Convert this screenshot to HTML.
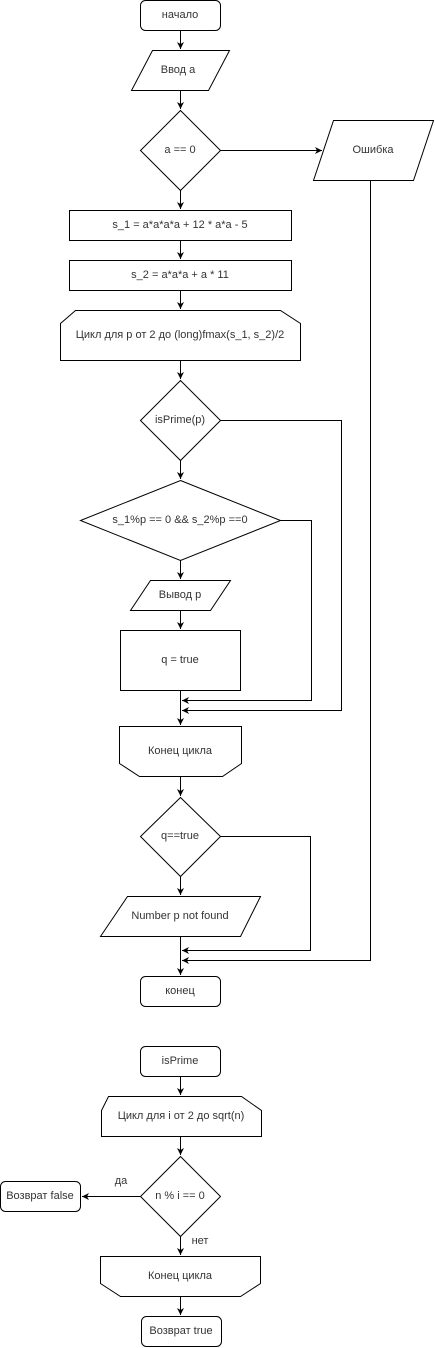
<!DOCTYPE html>
<html><head><meta charset="utf-8"><style>
html,body{margin:0;padding:0;background:#fff;}
svg{display:block;}
text{font-family:"Liberation Sans",Arial,sans-serif;font-size:11px;fill:#333;text-anchor:middle;dominant-baseline:central;}
</style></head><body>
<svg width="435" height="1348" viewBox="0 0 435 1348" xmlns="http://www.w3.org/2000/svg">
<defs><marker id="a" markerWidth="8" markerHeight="8" refX="7" refY="4" orient="auto" markerUnits="userSpaceOnUse"><path d="M0,0.5 L7,4 L0,7.5 L2,4 Z" fill="#000"/></marker></defs>
<g fill="none" stroke="#000" stroke-width="1">
<rect x="140.5" y="0.5" width="80" height="30" rx="5"/>
<polygon points="152.5,50.5 229.5,50.5 208.5,90.5 131.5,90.5"/>
<polygon points="180.5,110.5 220.5,150.5 180.5,190.5 140.5,150.5"/>
<polygon points="333.5,120.5 433.5,120.5 413.5,180.5 313.5,180.5"/>
<rect x="69.5" y="210.5" width="222" height="30"/>
<rect x="69.5" y="260.5" width="222" height="30"/>
<polygon points="75.5,310.5 280.5,310.5 300.5,323.5 300.5,360.5 60.5,360.5 60.5,323.5"/>
<polygon points="180.5,380.5 220.5,420.5 180.5,460.5 140.5,420.5"/>
<polygon points="180.5,480.5 280.5,520.5 180.5,560.5 80.5,520.5"/>
<polygon points="150.5,580.5 230.5,580.5 210.5,610.5 130.5,610.5"/>
<rect x="120.5" y="630.5" width="120" height="60"/>
<polygon points="119.5,726.5 241.5,726.5 241.5,763.5 222.5,776.5 139.5,776.5 119.5,763.5"/>
<polygon points="180.5,797.5 220.5,836.5 180.5,876.5 140.5,836.5"/>
<polygon points="127.5,896.5 260.5,896.5 240.5,936.5 100.5,936.5"/>
<rect x="140.5" y="976.5" width="80" height="30" rx="5"/>
<rect x="140.5" y="1046.5" width="80" height="30" rx="5"/>
<polygon points="108.5,1096.5 241.5,1096.5 261.5,1110.5 261.5,1136.5 101.5,1136.5 101.5,1110.5"/>
<polygon points="180.5,1156.5 220.5,1196.5 180.5,1236.5 140.5,1196.5"/>
<rect x="0.5" y="1181.5" width="80" height="30" rx="5"/>
<polygon points="100.5,1256.5 260.5,1256.5 260.5,1283.5 240.5,1296.5 120.5,1296.5 100.5,1283.5"/>
<rect x="141.5" y="1316.5" width="80" height="30" rx="5"/>

<path d="M180.5,30.5 V49" marker-end="url(#a)"/>
<path d="M180.5,90.5 V109" marker-end="url(#a)"/>
<path d="M220.5,150.5 H322" marker-end="url(#a)"/>
<path d="M180.5,190.5 V209" marker-end="url(#a)"/>
<path d="M180.5,240.5 V259" marker-end="url(#a)"/>
<path d="M180.5,290.5 V309" marker-end="url(#a)"/>
<path d="M180.5,360.5 V379" marker-end="url(#a)"/>
<path d="M180.5,460.5 V479" marker-end="url(#a)"/>
<path d="M180.5,560.5 V579" marker-end="url(#a)"/>
<path d="M180.5,610.5 V629" marker-end="url(#a)"/>
<path d="M180.5,690.5 V725" marker-end="url(#a)"/>
<path d="M280.5,520.5 H311.5 V700.5 H182" marker-end="url(#a)"/>
<path d="M220.5,420.5 H341.5 V710.5 H182" marker-end="url(#a)"/>
<path d="M180.5,776.5 V796" marker-end="url(#a)"/>
<path d="M180.5,876.5 V895" marker-end="url(#a)"/>
<path d="M180.5,936.5 V975" marker-end="url(#a)"/>
<path d="M220.5,836.5 H310.5 V950.5 H182" marker-end="url(#a)"/>
<path d="M370.5,180.5 V960.5 H182" marker-end="url(#a)"/>
<path d="M180.5,1076.5 V1095" marker-end="url(#a)"/>
<path d="M180.5,1136.5 V1155" marker-end="url(#a)"/>
<path d="M140.5,1196.5 H82" marker-end="url(#a)"/>
<path d="M180.5,1236.5 V1255" marker-end="url(#a)"/>
<path d="M180.5,1296.5 V1315" marker-end="url(#a)"/>
</g>
<text x="180" y="15">начало</text>
<text x="178" y="70">Ввод a</text>
<text x="180" y="150">a == 0</text>
<text x="373" y="150">Ошибка</text>
<text x="180" y="225">s_1 = a*a*a*a + 12 * a*a - 5</text>
<text x="180" y="275">s_2 = a*a*a + a * 11</text>
<text x="180" y="335">Цикл для p от 2 до (long)fmax(s_1, s_2)/2</text>
<text x="180" y="420">isPrime(p)</text>
<text x="180" y="520">s_1%p == 0 &amp;&amp; s_2%p ==0</text>
<text x="180" y="595">Вывод p</text>
<text x="180" y="660">q = true</text>
<text x="180" y="751">Конец цикла</text>
<text x="180" y="836">q==true</text>
<text x="180" y="916">Number p not found</text>
<text x="180" y="991">конец</text>
<text x="180" y="1061">isPrime</text>
<text x="181" y="1116">Цикл для i от 2 до sqrt(n)</text>
<text x="180" y="1196">n % i == 0</text>
<text x="40" y="1196">Возврат false</text>
<text x="121" y="1181">да</text>
<text x="200" y="1241">нет</text>
<text x="180" y="1276">Конец цикла</text>
<text x="181" y="1331">Возврат true</text>
</svg>
</body></html>
